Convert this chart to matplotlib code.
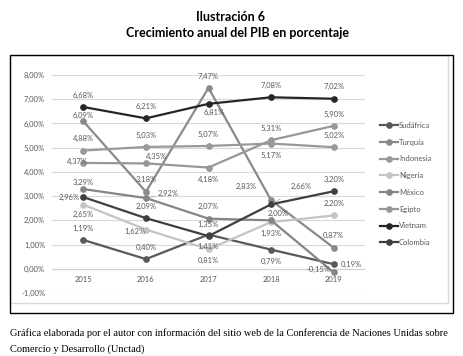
import matplotlib
matplotlib.use("Agg")
import matplotlib.pyplot as plt
from matplotlib.patches import Rectangle

anios = ["2015", "2016", "2017", "2018", "2019"]
paises = ["Sudáfrica", "Turquía", "Indonesia", "Nigeria",
          "México", "Egipto", "Vietnam", "Colombia"]

sudafrica = [1.19, 0.40, 1.41, 0.79, 0.19]
turquia = [6.09, 3.18, 7.47, 2.83, 0.87]
indonesia = [4.88, 5.03, 5.07, 5.17, 5.02]
nigeria = [2.65, 1.62, 0.81, 1.93, 2.20]
mexico = [3.29, 2.92, 2.07, 2.00, -0.15]
egipto = [4.37, 4.35, 4.18, 5.31, 5.90]
vietnam = [6.68, 6.21, 6.81, 7.08, 7.02]
colombia = [2.96, 2.09, 1.35, 2.66, 3.20]

series = [sudafrica, turquia, indonesia, nigeria, mexico, egipto, vietnam, colombia]
colores = ["#595959", "#8a8a8a", "#999999", "#c4c4c4",
           "#858585", "#979797", "#262626", "#3f3f3f"]

# posicion de las etiquetas (desplazamiento en puntos)
A, B = (0, 8.5), (0, -8.5)
desplaz = {
    "Sudáfrica": [A, A, B, B, (13, 0)],
    "Turquía": [(0, 4), A, A, (-18, 10), A],
    "Indonesia": [A, A, A, B, A],
    "Nigeria": [(0, -7), (-8, -1.5), B, B, A],
    "México": [(0, 5), (16, 3), A, (5, 5), (-11, 2)],
    "Egipto": [(-4, 1), (8, 5), B, A, A],
    "Vietnam": [A, A, (4, -6.5), A, A],
    "Colombia": [(-10, 0), A, A, (22, 13), A],
}
con_guia = {("México", 1), ("Colombia", 3)}

W, H = 463, 356
plt.rcParams["font.family"] = ["Lato", "DejaVu Sans"]

fig = plt.figure(figsize=(W / 100, H / 100), dpi=100)
ax = fig.add_axes([52 / W, 1 - 293 / H, 313 / W, 218 / H])

x = list(range(len(anios)))
for pais, valores, color in zip(paises, series, colores):
    ax.plot(x, valores, color=color, lw=1.6, marker="o", ms=3.8,
            label=pais, zorder=3)
    for i, v in enumerate(valores):
        dx, dy = desplaz[pais][i]
        props = None
        if (pais, i) in con_guia:
            props = dict(arrowstyle="-", color="#a0a0a0", lw=0.5,
                         shrinkA=9, shrinkB=2)
        ax.annotate(f"{v:.2f}%".replace(".", ","), (i, v),
                    xytext=(dx, dy), textcoords="offset points",
                    ha="center", va="center", fontsize=5.5,
                    color="#595959", arrowprops=props, zorder=4)

ax.set_xlim(-0.5, len(anios) - 0.5)
ax.set_ylim(-1, 8)
ax.set_yticks(range(-1, 9))
ax.set_yticklabels([f"{t:.2f}%".replace(".", ",") for t in range(-1, 9)])
ax.set_xticks([])
ax.yaxis.grid(True, color="#d9d9d9", lw=0.8)
ax.set_axisbelow(True)
ax.axhline(0, color="#d0d0d0", lw=0.8, zorder=1)
ax.tick_params(axis="y", length=0, pad=5, labelsize=5.5, labelcolor="#595959")
for s in ax.spines.values():
    s.set_visible(False)

for i, anio in enumerate(anios):
    ax.annotate(anio, (i, 0), xytext=(0, -7.5), textcoords="offset points",
                ha="center", va="center", fontsize=5.5, color="#595959")

ax.legend(loc="upper left", bbox_to_anchor=(380 / W, 1 - 122 / H),
          bbox_transform=fig.transFigure, frameon=False, fontsize=5.5,
          handlelength=2.4, handletextpad=0.1, labelspacing=1.27,
          borderpad=0, borderaxespad=0, labelcolor="#595959")

# marcos
fig.add_artist(Rectangle((10 / W, 1 - 303 / H), 438 / W, 248 / H,
                         transform=fig.transFigure, fill=False,
                         ec="#d9d9d9", lw=1))
fig.add_artist(Rectangle((10 / W, 1 - 313 / H), 443 / W, 258 / H,
                         transform=fig.transFigure, fill=False,
                         ec="black", lw=1))

fig.text(231 / W, 1 - 17 / H, "Ilustración 6", ha="center", va="center",
         fontsize=9, fontweight="bold")
fig.text(238 / W, 1 - 33 / H, "Crecimiento anual del PIB en porcentaje",
         ha="center", va="center", fontsize=9, fontweight="bold")

fig.text(10 / W, 1 - 333 / H,
         "Gráfica elaborada por el autor con información del sitio web de la "
         "Conferencia de Naciones Unidas sobre",
         family="Liberation Serif", fontsize=7.5, va="center")
fig.text(10 / W, 1 - 349 / H, "Comercio y Desarrollo (Unctad)",
         family="Liberation Serif", fontsize=7.5, va="center")

fig.savefig("out.png", dpi=100)
